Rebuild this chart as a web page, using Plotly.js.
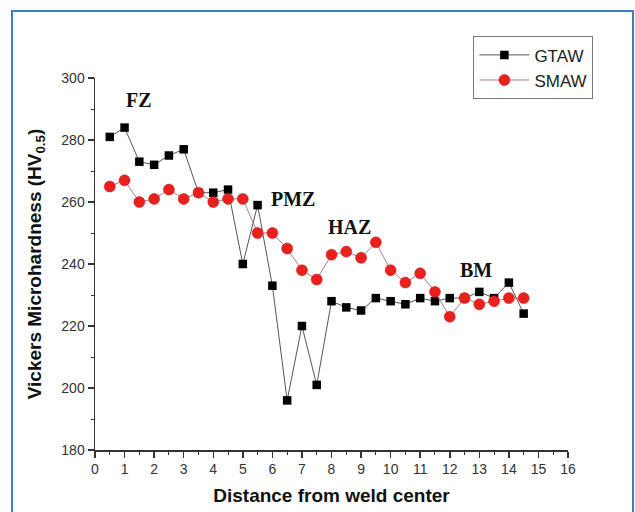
<!DOCTYPE html>
<html>
<head>
<meta charset="utf-8">
<script src="https://cdn.plot.ly/plotly-3.0.1.min.js"></script>
<style>
  html, body { margin: 0; padding: 0; background: #fff; }
  #wrap { position: relative; width: 635px; height: 512px; overflow: hidden; }
  #chart { position: absolute; left: 0; top: 0; width: 635px; height: 512px; }
  #frame { position: absolute; left: 11px; top: 10px; width: 619px; height: 520px;
           border: 2px solid #3d7fbf; pointer-events: none; }
</style>
</head>
<body>
<div id="wrap">
  <div id="chart"></div>
  <div id="frame"></div>
</div>
<script>
const distance = [0.5,1,1.5,2,2.5,3,3.5,4,4.5,5,5.5,6,6.5,7,7.5,8,8.5,9,9.5,10,10.5,11,11.5,12,12.5,13,13.5,14,14.5];
const gtaw = [281,284,273,272,275,277,263,263,264,240,259,233,196,220,201,228,226,225,229,228,227,229,228,229,229,231,229,234,224];
const smaw = [265,267,260,261,264,261,263,260,261,261,250,250,245,238,235,243,244,242,247,238,234,237,231,223,229,227,228,229,229];
const zoneLabels = ["FZ","PMZ","HAZ","BM"];
const zoneX = [1.5, 6.7, 8.6, 12.9];
const zoneY = [293, 261, 252, 238];

const traces = [
  { x: distance, y: gtaw, name: "GTAW", type: "scatter", mode: "lines+markers",
    line: { color: "#555555", width: 1 },
    marker: { symbol: "square", size: 8.5, color: "#000000" } },
  { x: distance, y: smaw, name: "SMAW", type: "scatter", mode: "lines+markers",
    line: { color: "#b07f7f", width: 1 },
    marker: { symbol: "circle", size: 11, color: "#e8201e", line: { color: "#c81010", width: 0.5 } } }
];

const annotations = zoneLabels.map((t, i) => ({
  x: zoneX[i], y: zoneY[i], xref: "x", yref: "y", text: "<b>" + t + "</b>", showarrow: false,
  font: { family: "Liberation Serif, Times New Roman, serif", size: 20, color: "#111" }
}));

const layout = {
  width: 635, height: 512,
  margin: { l: 95, r: 67, t: 78, b: 62 },
  paper_bgcolor: "#ffffff", plot_bgcolor: "#ffffff",
  font: { family: "Liberation Sans, Arial, sans-serif", color: "#333" },
  showlegend: true,
  legend: { x: 0.8, y: 1.112, xanchor: "left", yanchor: "top",
            bordercolor: "#777", borderwidth: 1, bgcolor: "#fff",
            font: { size: 17, color: "#222" }, tracegroupgap: 0, itemwidth: 50 },
  xaxis: {
    range: [0, 16], dtick: 1, tick0: 0, showgrid: false, zeroline: false,
    showline: true, linecolor: "#333", linewidth: 1.5,
    ticks: "outside", ticklen: 6, tickwidth: 1.5, tickcolor: "#333",
    minor: { dtick: 0.5, ticks: "outside", ticklen: 3, tickcolor: "#333", tickwidth: 1 },
    tickfont: { size: 14, color: "#333" },
    title: { text: "<b>Distance from weld center</b>", font: { size: 19, color: "#111" }, standoff: 12 }
  },
  yaxis: {
    range: [180, 300], dtick: 20, showgrid: false, zeroline: false,
    showline: true, linecolor: "#333", linewidth: 1.5,
    ticks: "outside", ticklen: 6, tickwidth: 1.5, tickcolor: "#333",
    minor: { dtick: 10, ticks: "outside", ticklen: 3, tickcolor: "#333", tickwidth: 1 },
    tickfont: { size: 14, color: "#333" },
    title: { text: "<b>Vickers Microhardness (HV<sub>0.5</sub>)</b>", font: { size: 19, color: "#111" }, standoff: 14 }
  },
  annotations: annotations
};

Plotly.newPlot("chart", traces, layout, { displayModeBar: false, staticPlot: true });
</script>
</body>
</html>
